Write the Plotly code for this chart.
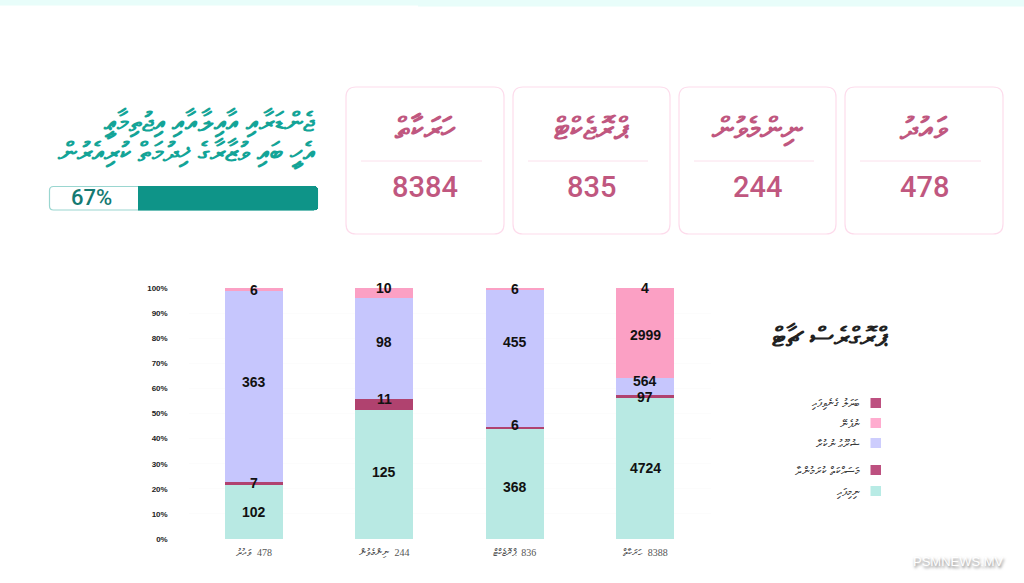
import plotly.graph_objects as go

W, H = 1024, 583

# ---- data ----
categories = ["ވައުދު", "ނިންމެވުން", "ޕްރޮޖެކްޓް", "ހަރަކާތް"]
category_totals = [478, 244, 836, 8388]
card_values = [478, 244, 835, 8384]
done = [102, 125, 368, 4724]
in_progress = [7, 11, 6, 97]
not_started = [363, 98, 455, 564]
no_info = [6, 10, 6, 2999]
changed = [0, 0, 0, 4]
progress_percent = 67
y_ticks = [0, 10, 20, 30, 40, 50, 60, 70, 80, 90, 100]
series_names = ["ނިމިފައި", "މަސައްކަތް ކުރަމުންދާ", "ޝުރޫޢު ނުކުރާ", "ނުފެނޭ", "ބަދަލު ގެނެވިފައި"]
title_lines = ["ޖެންޑަރާއި އާއިލާއާއި އިޖުތިމާޢީ", "އެހީ ބައި ވުޒާރާގެ ޚިދުމަތް ކުރިއެރުން"]
chart_title = "ޕްރޮގްރެސް ޗާޓް"

FILL = ["#b8e9e3", "#b0426f", "#c6c6fd", "#fba0c4", "#fba0c4"]
LEGEND_FILL = ["#b8ebe5", "#bd5080", "#cdcdfd", "#ffaccf", "#bd5080"]
ALL = [done, in_progress, not_started, no_info, changed]
THAANA = "Noto Sans, DejaVu Sans, sans-serif"
PINK = "#c0577f"
TEAL = "#0e9488"


def px(x):
    return x / W


def py(y):
    return 1 - y / H


def rrect(x0, y0, x1, y1, r, line, fill="rgba(0,0,0,0)", lw=1.2):
    a, b, c, d = px(x0), py(y0), px(x1), py(y1)
    rx, ry = r / W, r / H
    path = (f"M {a+rx} {b} L {c-rx} {b} Q {c} {b} {c} {b-ry} L {c} {d+ry} Q {c} {d} {c-rx} {d} "
            f"L {a+rx} {d} Q {a} {d} {a} {d+ry} L {a} {b-ry} Q {a} {b} {a+rx} {b} Z")
    return dict(type="path", path=path, xref="paper", yref="paper",
                line=dict(color=line, width=lw), fillcolor=fill, layer="below")


def note(x, y, text, font, xanchor="center"):
    return dict(x=px(x), y=py(y), xref="paper", yref="paper", text=text, showarrow=False,
                xanchor=xanchor, yanchor="middle", font=font)


fig = go.Figure()
# the left-to-right mark keeps the number to the right of the Thaana word
x_labels = [f"{c}\u00a0\u00a0\u200e{n}" for n, c in zip(category_totals, categories)]

for vals, name, col in zip(ALL, series_names, FILL):
    fig.add_trace(go.Bar(x=x_labels, y=vals, name=name, marker=dict(color=col, line=dict(width=0)),
                         showlegend=False, hoverinfo="skip"))

# progress bar on its own axes: empty part first, filled part on the right
fig.add_trace(go.Bar(x=[100 - progress_percent], y=[""], orientation="h", xaxis="x2", yaxis="y2", showlegend=False,
                     marker=dict(color="rgba(0,0,0,0)", line=dict(width=0)), hoverinfo="skip", width=1))
fig.add_trace(go.Bar(x=[progress_percent], y=[""], orientation="h", xaxis="x2", yaxis="y2", showlegend=False,
                     marker=dict(color=TEAL, line=dict(width=0), cornerradius=4), hoverinfo="skip", width=1))

annotations = []
# pixel nudges of the value labels relative to segment centre
shifts = [[0, 3, -3, 0], [1, 6, 2, -1], [4, 7, 16, 5], [0, 5, 0, -2], [0, 0, 0, 0]]
for j, lab in enumerate(x_labels):
    total = sum(s[j] for s in ALL)
    base = 0
    for i, s in enumerate(ALL):
        v = s[j]
        if v:
            centre = (base + v / 2) / total * 100
            annotations.append(dict(x=lab, y=centre, xref="x", yref="y", text=str(v), showarrow=False,
                                    yshift=shifts[i][j], xanchor="center", yanchor="middle",
                                    font=dict(family="Liberation Sans", size=14, color="#111", weight="bold")))
        base += v

# cards
shapes = []
card_x = [(845, 1003), (679, 836), (513, 670), (346, 504)]
for (x0, x1), name, val in zip(card_x, categories, card_values):
    shapes.append(rrect(x0, 87, x1, 234, 10, "#fddcec"))
    shapes.append(dict(type="line", xref="paper", yref="paper", x0=px(x0 + 15), x1=px(x1 - 22), y0=py(161), y1=py(161),
                       line=dict(color="#fbe0ec", width=1)))
    mid = (x0 + x1) / 2
    annotations.append(note(mid, 127, name, dict(family=THAANA, size=31, color=PINK, weight="bold")))
    annotations.append(note(mid, 187, str(val), dict(family="Roboto", size=29, color=PINK, weight=500)))

# progress frame + title
shapes.append(rrect(49.5, 186.5, 317.5, 210, 4, "#9ad6d0", "#ffffff"))
annotations.append(note(91, 198, f"{progress_percent}%", dict(family="Roboto", size=22, color="#147a72", weight=500)))
annotations.append(note(318, 121, title_lines[0], dict(family=THAANA, size=27, color="#13a497", weight="bold"), "right"))
annotations.append(note(318, 151, title_lines[1], dict(family=THAANA, size=27, color="#13a497", weight="bold"), "right"))

# chart title + legend
annotations.append(note(830, 335, chart_title, dict(family=THAANA, size=27, color="#222", weight="bold")))
legend_y = [491, 470, 443, 423, 403]
for name, col, y in zip(series_names, LEGEND_FILL, legend_y):
    shapes.append(dict(type="rect", xref="paper", yref="paper", x0=px(870.5), x1=px(881), y0=py(y - 5), y1=py(y + 5),
                       fillcolor=col, line=dict(width=0)))
    annotations.append(note(862, y, name, dict(family=THAANA, size=11, color="#3a3a3a"), "right"))

# top strip and watermark
shapes.append(dict(type="rect", xref="paper", yref="paper", x0=0, x1=px(418), y0=py(5.5), y1=1,
                   fillcolor="#e8fdfa", line=dict(width=0), layer="below"))
shapes.append(dict(type="rect", xref="paper", yref="paper", x0=px(418), x1=1, y0=py(6.5), y1=1,
                   fillcolor="#e8fdfa", line=dict(width=0), layer="below"))
annotations.append(note(958, 561, "PSMNEWS.MV", dict(family="Liberation Sans", size=13, color="#ffffff",
                                                     shadow="1px 2px 3px #777")))

fig.update_layout(
    width=W, height=H, margin=dict(l=0, r=0, t=0, b=0, autoexpand=False),
    paper_bgcolor="white", plot_bgcolor="rgba(0,0,0,0)",
    barmode="stack", barnorm="percent", bargap=0.555,
    shapes=shapes, annotations=annotations,
    xaxis=dict(domain=[px(188.7), px(710.5)], showgrid=False, zeroline=False, showline=False, ticks="",
               ticklabelstandoff=6,
               tickfont=dict(family="Liberation Serif", size=10, color="#555"), anchor="y"),
    yaxis=dict(domain=[py(539), py(288)], range=[0, 100], tickvals=y_ticks, ticktext=[f"{t}%" for t in y_ticks],
               gridcolor="#fcfcfc", zeroline=False, showline=False, ticks="", ticklabelstandoff=20,
               tickfont=dict(family="Liberation Sans", size=8, color="#222", weight="bold"), anchor="x"),
    xaxis2=dict(domain=[px(49), px(318)], range=[0, 100], visible=False, anchor="y2"),
    yaxis2=dict(domain=[py(210.5), py(186)], visible=False, anchor="x2"),
)
fig.write_html("out.html", config=dict(displayModeBar=False),
               post_script="document.body.style.margin='0';document.body.style.overflow='hidden';")
